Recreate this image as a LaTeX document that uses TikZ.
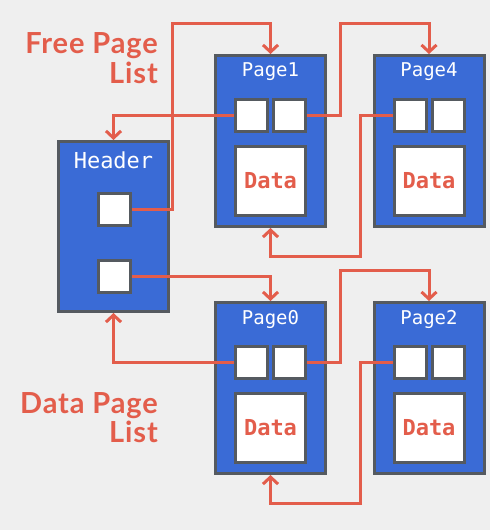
\documentclass[tikz,border=0pt]{standalone}
\usepackage{fontspec}
\setmainfont{Lato}
\newfontfamily\monof{DejaVu Sans Mono}
\newfontfamily\biglato[LetterSpace=3]{Lato}
\usetikzlibrary{arrows.meta}
\definecolor{bgc}{HTML}{EFEFEF}
\definecolor{pblue}{HTML}{3A6BD6}
\definecolor{pgray}{HTML}{555A60}
\definecolor{pred}{HTML}{E35D4B}
\newcommand\pg[4]{%
  \node[pagebox] (#1) at (#3,#4) {};
  \node[lbl] (#1t) at (#3,#4-69) {#2};
  \node[cellbox] (#1l) at (#3-19,#4-25.5) {};
  \node[cellbox] (#1r) at (#3+19,#4-25.5) {};
  \node[databox] (#1d) at (#3,#4+40) {Data};
}
\begin{document}
\begin{tikzpicture}[x=1pt,y=-1pt,
  pagebox/.style={draw=pgray,fill=pblue,line width=3pt,minimum width=110pt,minimum height=171pt,inner sep=0pt},
  cellbox/.style={draw=pgray,fill=white,line width=3pt,minimum width=32pt,minimum height=32pt,inner sep=0pt},
  databox/.style={draw=pgray,fill=white,line width=3pt,minimum width=70pt,minimum height=69pt,inner sep=0pt,
    text=pred,font=\monof\bfseries\fontsize{22}{24}\selectfont},
  lbl/.style={text=white,inner sep=0pt,font=\monof\fontsize{19}{21}\selectfont},
  biglbl/.style={text=pred,inner sep=0pt,font=\biglato\bfseries\fontsize{29}{30}\selectfont,anchor=base east},
  arr/.style={draw=pred,line width=3pt,-{Straight Barb[length=7pt,width=15pt]}}]
\fill[bgc] (0,0) rectangle (490,530);
\useasboundingbox (0,0) rectangle (490,530);
% header
\node[pagebox,minimum height=170pt] (hdr) at (113.5,226.5) {};
\node[lbl,font=\monof\fontsize{22}{24}\selectfont] (hdrt) at (113.5,160) {Header};
\node[cellbox] (h1) at (114.5,209) {};
\node[cellbox] (h2) at (114.5,276) {};
% pages
\pg{p1}{Page1}{270.5}{141}
\pg{p4}{Page4}{429}{141}
\pg{p0}{Page0}{270.5}{388}
\pg{p2}{Page2}{429}{388}
% labels
\node[biglbl] (fl1) at (158,53) {Free Page};
\node[biglbl] (fl2) at (158,83) {List};
\node[biglbl] (dl1) at (158,413) {Data Page};
\node[biglbl] (dl2) at (158,442) {List};
% turning points
\coordinate (t1) at (172,23);
\coordinate (t2) at (340,23);
\coordinate (t3) at (360,256);
\coordinate (t4) at (340,270);
\coordinate (t5) at (360,503);
% connectors
\draw[arr] (h1.east) -| (t1) -| (p1.north);
\draw[arr] (p1l.west) -| (hdr.north);
\draw[arr] (p1r.east) -| (t2) -| (p4.north);
\draw[arr] (p4l.west) -| (t3) -| (p1.south);
\draw[arr] (h2.east) -| (p0.north);
\draw[arr] (p0l.west) -| (hdr.south);
\draw[arr] (p0r.east) -| (t4) -| (p2.north);
\draw[arr] (p2l.west) -| (t5) -| (p0.south);
\end{tikzpicture}
\end{document}
